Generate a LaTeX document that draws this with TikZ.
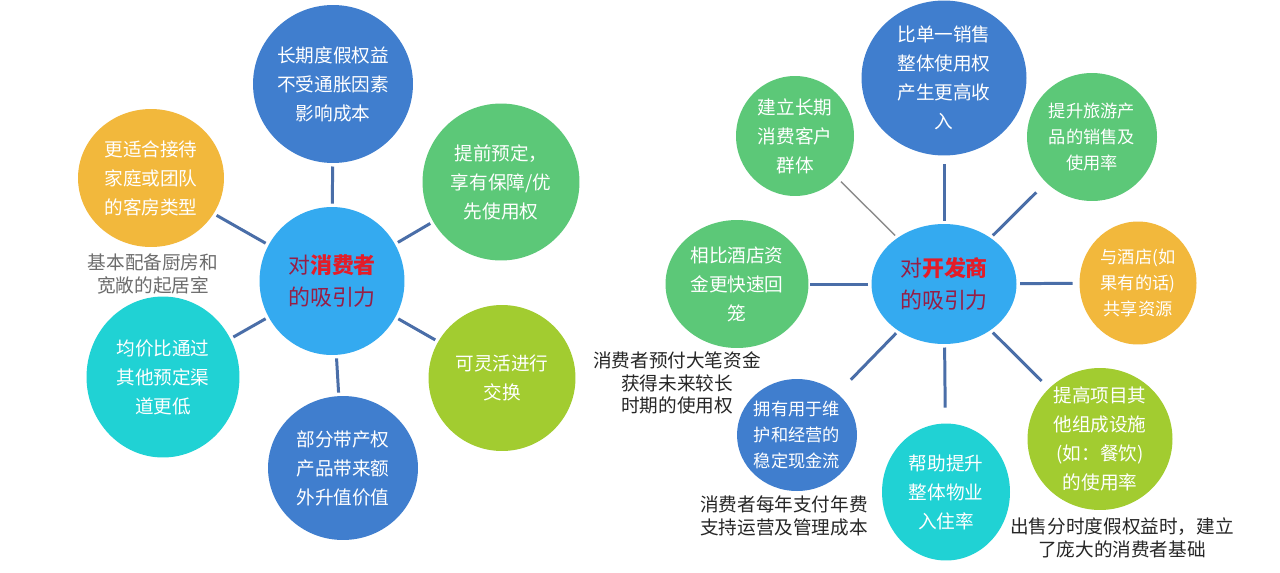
\documentclass[tikz,border=0pt]{standalone}
\usepackage{fontspec}
\setmainfont{Noto Sans CJK SC}
\usepackage{xcolor}
\usepackage{tikz}
\usetikzlibrary{shapes.geometric}

\definecolor{deepblue}{RGB}{64,126,206}
\definecolor{hubblue}{RGB}{52,170,240}
\definecolor{leafgreen}{RGB}{92,200,120}
\definecolor{amber}{RGB}{242,184,60}
\definecolor{aqua}{RGB}{32,210,212}
\definecolor{lime}{RGB}{162,204,48}
\definecolor{linkblue}{RGB}{74,110,168}
\definecolor{hubred}{RGB}{228,28,40}
\definecolor{hubdark}{RGB}{150,30,70}

\tikzset{
  bubble/.style={ellipse, fill=#1, inner sep=0pt, outer sep=0pt},
  intext/.style={text=white, align=center, font=\fontsize{10.6pt}{16.5pt}\selectfont},
  smalltext/.style={text=white, align=center, font=\fontsize{9.8pt}{14.8pt}\selectfont},
  hubtext/.style={text=hubdark, align=center, font=\fontsize{12.5pt}{18.5pt}\selectfont},
  note/.style={align=center, font=\fontsize{10.6pt}{13pt}\selectfont},
  link/.style={draw=linkblue, line width=1.7pt, shorten <=2pt, shorten >=2pt},
  thinlink/.style={draw=gray!90, line width=0.8pt, shorten <=2pt, shorten >=3pt}
}

\begin{document}
\begin{tikzpicture}[x=0.02cm, y=-0.02cm]
  \useasboundingbox (0,0) rectangle (1280,572);
  \fill[white] (0,0) rectangle (1280,572);

  % consumer side
  \node[bubble=hubblue, minimum width=2.9cm, minimum height=2.96cm,
    label={[hubtext]center:对{\bfseries\color{hubred}消费者}\\的吸引力}] (lhub) at (332,281) {};
  \node[bubble=deepblue, minimum width=3.2cm, minimum height=3.16cm,
    label={[intext]center:长期度假权益\\不受通胀因素\\影响成本}] (ltop) at (333,84) {};
  \node[bubble=amber, minimum width=2.92cm, minimum height=2.76cm,
    label={[intext]center:更适合接待\\家庭或团队\\的客房类型}] (lfam) at (151,178) {};
  \node[bubble=leafgreen, minimum width=3.14cm, minimum height=3.14cm,
    label={[intext]center:提前预定，\\享有保障/优\\先使用权}] (lpre) at (501,182) {};
  \node[bubble=aqua, minimum width=3.06cm, minimum height=3.22cm,
    label={[intext]center:均价比通过\\其他预定渠\\道更低}] (llow) at (163,377) {};
  \node[bubble=lime, minimum width=2.94cm, minimum height=2.92cm,
    label={[intext]center:可灵活进行\\交换}] (lswap) at (502,378) {};
  \node[bubble=deepblue, minimum width=3.0cm, minimum height=2.88cm,
    label={[intext]center:部分带产权\\产品带来额\\外升值价值}] (lval) at (343,468) {};
  \node[note, text=gray!85!black] (lkit) at (153,274) {基本配备厨房和\\宽敞的起居室};

  \foreach \n in {ltop,lfam,lpre,llow,lswap,lval}
    \draw[link] (lhub) -- (\n);

  % developer side
  \node[bubble=hubblue, minimum width=2.9cm, minimum height=2.4cm,
    label={[hubtext]center:对{\bfseries\color{hubred}开发商}\\的吸引力}] (rhub) at (944,284) {};
  \node[bubble=deepblue, minimum width=3.3cm, minimum height=3.1cm,
    label={[intext]center:比单一销售\\整体使用权\\产生更高收\\入}] (rtop) at (944,78) {};
  \node[bubble=leafgreen, minimum width=2.36cm, minimum height=2.4cm,
    label={[intext]center:建立长期\\消费客户\\群体}] (rbase) at (795,136) {};
  \node[bubble=leafgreen, minimum width=2.6cm, minimum height=2.56cm,
    label={[smalltext]center:提升旅游产\\品的销售及\\使用率}] (rtour) at (1092,137) {};
  \node[bubble=leafgreen, minimum width=2.86cm, minimum height=2.56cm,
    label={[intext]center:相比酒店资\\金更快速回\\笼}] (rcash) at (737,284) {};
  \node[bubble=amber, minimum width=2.34cm, minimum height=2.46cm,
    label={[smalltext]center:与酒店(如\\果有的话)\\共享资源}] (rhotel) at (1138,283) {};
  \node[bubble=deepblue, minimum width=2.4cm, minimum height=2.24cm,
    label={[smalltext]center:拥有用于维\\护和经营的\\稳定现金流}] (rflow) at (797,435) {};
  \node[bubble=aqua, minimum width=2.56cm, minimum height=2.74cm,
    label={[intext]center:帮助提升\\整体物业\\入住率}] (rstay) at (946,492) {};
  \node[bubble=lime, minimum width=2.9cm, minimum height=2.84cm,
    label={[intext]center:提高项目其\\他组成设施\\(如：餐饮)\\的使用率}] (rfac) at (1100,439) {};

  \node[note, text=black!85] (rpay) at (677,383) {消费者预付大笔资金\\获得未来较长\\时期的使用权};
  \node[note, text=black!85] (rfee) at (784,516) {消费者每年支付年费\\支持运营及管理成本};
  \node[note, text=black!85] (rsell) at (1122,538) {出售分时度假权益时，建立\\了庞大的消费者基础};

  \draw[thinlink] (rhub) -- (rbase);
  \foreach \n/\s in {rtop/5pt, rtour/8pt, rcash/1pt, rhotel/4pt, rflow/11pt, rstay/9pt, rfac/6pt}
    \draw[link, shorten >=\s] (rhub) -- (\n);
\end{tikzpicture}
\end{document}
